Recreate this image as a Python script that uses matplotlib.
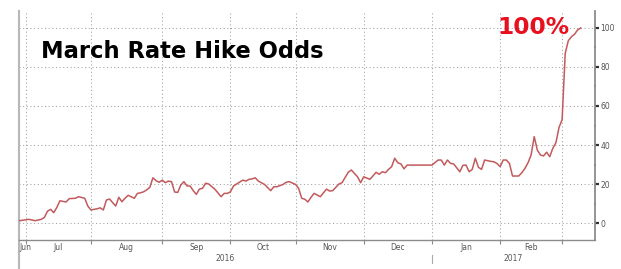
import numpy as np
import matplotlib
matplotlib.use('Agg')
import matplotlib.pyplot as plt
from matplotlib.transforms import blended_transform_factory

# implied odds of a March 2017 hike, daily (business days)
DATES = [
    '2016-06-28', '2016-06-29', '2016-07-04', '2016-07-06', '2016-07-08', '2016-07-11',
    '2016-07-12', '2016-07-13', '2016-07-14', '2016-07-15', '2016-07-18', '2016-07-20',
    '2016-07-21', '2016-07-25', '2016-07-26', '2016-07-28', '2016-07-29', '2016-08-01',
    '2016-08-03', '2016-08-04', '2016-08-05', '2016-08-08', '2016-08-09', '2016-08-11',
    '2016-08-12', '2016-08-15', '2016-08-16', '2016-08-17', '2016-08-19', '2016-08-22',
    '2016-08-23', '2016-08-24', '2016-08-25', '2016-08-26', '2016-08-29', '2016-08-30',
    '2016-08-31', '2016-09-01', '2016-09-02', '2016-09-05', '2016-09-06', '2016-09-07',
    '2016-09-08', '2016-09-09', '2016-09-12', '2016-09-13', '2016-09-14', '2016-09-15',
    '2016-09-16', '2016-09-19', '2016-09-20', '2016-09-21', '2016-09-22', '2016-09-26',
    '2016-09-28', '2016-09-29', '2016-09-30', '2016-10-03', '2016-10-04', '2016-10-07',
    '2016-10-10', '2016-10-11', '2016-10-12', '2016-10-13', '2016-10-14', '2016-10-18',
    '2016-10-20', '2016-10-21', '2016-10-24', '2016-10-26', '2016-10-27', '2016-10-28',
    '2016-11-01', '2016-11-02', '2016-11-03', '2016-11-04', '2016-11-07', '2016-11-08',
    '2016-11-09', '2016-11-11', '2016-11-15', '2016-11-16', '2016-11-17', '2016-11-21',
    '2016-11-22', '2016-11-24', '2016-11-25', '2016-11-29', '2016-11-30', '2016-12-01',
    '2016-12-05', '2016-12-07', '2016-12-08', '2016-12-09', '2016-12-12', '2016-12-13',
    '2016-12-14', '2016-12-15', '2016-12-16', '2016-12-19', '2016-12-20', '2016-12-21',
    '2017-01-02', '2017-01-04', '2017-01-05', '2017-01-06', '2017-01-09', '2017-01-10',
    '2017-01-11', '2017-01-13', '2017-01-16', '2017-01-17', '2017-01-18', '2017-01-19',
    '2017-01-20', '2017-01-23', '2017-01-24', '2017-01-25', '2017-01-27', '2017-01-30',
    '2017-01-31', '2017-02-01', '2017-02-02', '2017-02-03', '2017-02-06', '2017-02-07',
    '2017-02-09', '2017-02-10', '2017-02-13', '2017-02-14', '2017-02-15', '2017-02-16',
    '2017-02-17', '2017-02-20', '2017-02-21', '2017-02-22', '2017-02-23', '2017-02-24',
    '2017-02-27', '2017-02-28', '2017-03-01', '2017-03-02', '2017-03-03', '2017-03-06',
    '2017-03-07', '2017-03-08', '2017-03-09',
]
ODDS = [
    1.0, 1.2, 1.9, 1.2, 1.9, 2.9,
    6.1, 7.0, 5.3, 8.0, 11.4, 10.8,
    12.5, 12.7, 13.5, 12.7, 8.7, 6.7,
    7.3, 7.8, 6.7, 11.8, 12.3, 8.7,
    13.2, 10.9, 12.7, 14.2, 12.7, 15.2,
    15.5, 16.0, 17.0, 18.3, 23.2, 21.7,
    20.9, 22.0, 20.7, 21.5, 21.2, 15.9,
    15.7, 19.5, 21.2, 19.0, 19.0, 16.6,
    14.7, 17.4, 17.8, 20.4, 20.0, 17.3,
    13.5, 15.2, 15.2, 16.0, 19.0, 22.0,
    21.5, 22.4, 22.6, 23.2, 21.5, 19.8,
    16.6, 18.6, 18.6, 19.8, 20.9, 21.2,
    19.8, 17.8, 12.7, 12.2, 10.8, 13.2,
    15.2, 13.5, 17.4, 16.4, 16.6, 20.0,
    20.7, 26.0, 27.2, 23.7, 20.7, 23.7,
    22.4, 26.0, 25.0, 26.3, 25.8, 27.5,
    28.9, 33.2, 30.9, 30.3, 27.8, 29.7,
    29.7, 32.3, 32.3, 29.7, 32.3, 30.6,
    30.3, 26.3, 29.6, 29.7, 26.3, 27.5,
    33.2, 28.6, 27.5, 32.3, 31.6, 31.4,
    30.5, 28.9, 32.3, 32.3, 30.6, 24.1,
    24.1, 25.8, 28.0, 30.9, 34.9, 44.3,
    37.4, 34.9, 34.4, 36.3, 34.0, 38.3,
    41.2, 49.0, 53.0, 87.0, 93.5, 95.5,
    96.8, 99.0, 100.0,
]

MONTH_STARTS = ['2016-07-01', '2016-08-01', '2016-09-01', '2016-10-03', '2016-11-01',
                '2016-12-01', '2017-01-02', '2017-02-01', '2017-03-01']
MONTH_LABELS = ['Jun', 'Jul', 'Aug', 'Sep', 'Oct', 'Nov', 'Dec', 'Jan', 'Feb']
YEAR_LABELS = ['2016', '2017']
YEAR_BREAK = '2017-01-02'
Y_TICKS = [0, 20, 40, 60, 80, 100]

ORIGIN = '2016-07-01'
LINE_C = '#c25a5d'
AXIS_C = '#8c8c8c'
TEXT_C = '#555555'


def bday(dates):
    # business-day index, the way the terminal spaces its x axis
    return np.busday_count(ORIGIN, np.array(dates, dtype='datetime64[D]'))


fig = plt.figure(figsize=(6.21, 2.69), dpi=100)
ax = fig.add_axes([0.0306, 0.1078, 0.9275, 0.8513])

x = bday(DATES)
ax.plot(x, ODDS, color=LINE_C, lw=1.1, zorder=3)

xmin, xmax = -2.2, 183.6
ax.set_xlim(xmin, xmax)
ax.set_ylim(-8.7, 108.7)

# month boundaries: grid + little ticks
bounds = bday(MONTH_STARTS)
ax.set_xticks(bounds)
ax.set_xticklabels([])
ax.tick_params(axis='x', length=3, width=0.8, color=AXIS_C, direction='out')

ax.yaxis.tick_right()
ax.set_yticks(Y_TICKS)
ax.set_yticks(range(10, 100, 20), minor=True)
ax.tick_params(axis='y', which='major', length=3, width=1.6, color='#333333',
               direction='out', labelsize=5.5, labelcolor=TEXT_C, pad=1)
ax.tick_params(axis='y', which='minor', length=1.5, width=1.2, color='#555555',
               direction='inout')
ax.tick_params(axis='y', which='both', left=False)

ax.grid(True, which='major', color='#a0a0a0', lw=0.75, ls=(0, (1, 2.5)))
ax.set_axisbelow(True)

ax.spines['top'].set_visible(False)
ax.spines['right'].set_color(AXIS_C)
ax.spines['right'].set_linewidth(1.3)
ax.spines['bottom'].set_color(AXIS_C)
ax.spines['bottom'].set_linewidth(1.0)
ax.spines['left'].set_visible(False)
# left edge line runs down through the label band
ax.plot([0, 0], [-0.13, 1.0], transform=ax.transAxes, clip_on=False,
        color='#b8b8b8', lw=1.5)

# month labels centred in each month, years below
tr = blended_transform_factory(ax.transData, ax.transAxes)
ax.text(xmin, -0.034, MONTH_LABELS[0], transform=tr, ha='left', va='center',
        fontsize=5.5, color=TEXT_C)
for lab, a, b in zip(MONTH_LABELS[1:], bounds[:-1], bounds[1:]):
    ax.text((a + b) / 2, -0.034, lab, transform=tr, ha='center', va='center',
            fontsize=5.5, color=TEXT_C)
yb = bday([YEAR_BREAK])[0]
ax.text((xmin + yb) / 2, -0.079, YEAR_LABELS[0], transform=tr, ha='center',
        va='center', fontsize=5.5, color=TEXT_C)
ax.text((yb + xmax) / 2, -0.079, YEAR_LABELS[1], transform=tr, ha='center',
        va='center', fontsize=5.5, color=TEXT_C)
ax.plot([yb, yb], [-0.065, -0.1], transform=tr, clip_on=False, color='#aaaaaa', lw=0.8)

ax.text(0.0377, 0.825, 'March Rate Hike Odds', transform=ax.transAxes,
        ha='left', va='center', fontsize=16.3, fontweight='bold', color='black')
ax.text(0.955, 0.926, '100%', transform=ax.transAxes, ha='right', va='center',
        fontsize=16.8, fontweight='bold', color='#e8101e')

fig.savefig('out.png', dpi=100)
